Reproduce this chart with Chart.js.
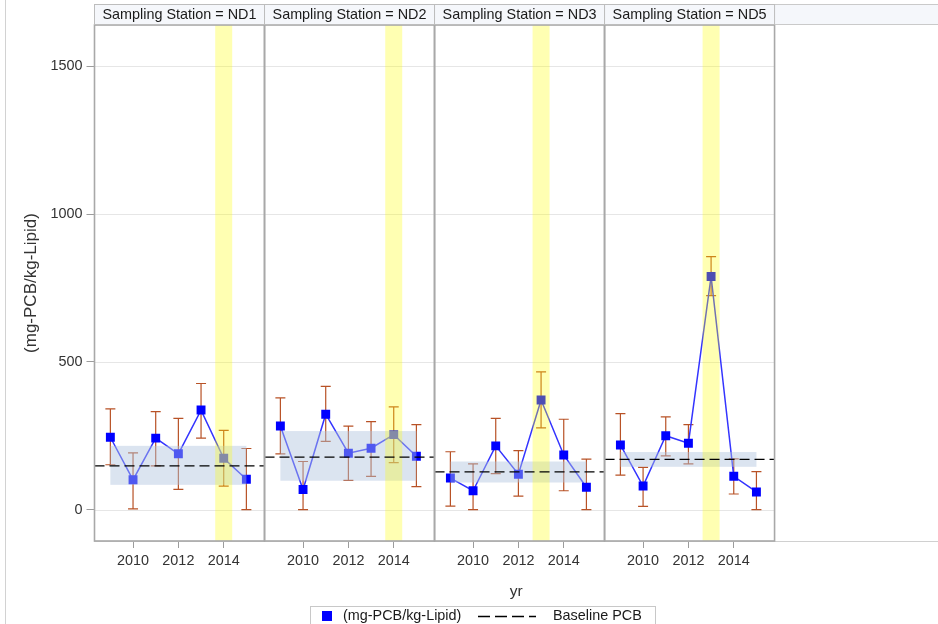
<!DOCTYPE html>
<html><head><meta charset="utf-8">
<script src="https://cdn.jsdelivr.net/npm/chart.js@4.4.1/dist/chart.umd.min.js"></script>
<style>html,body{margin:0;padding:0;background:#fff;}#wrap{position:relative;width:938px;height:624px;}</style>
</head><body><div id="wrap"><canvas id="c" width="938" height="624"></canvas></div>
<script>
// ---------- data ----------
const stations = ['ND1', 'ND2', 'ND3', 'ND5'];
const years = [2009, 2010, 2011, 2012, 2013, 2014, 2015];
const xTickYears = [2010, 2012, 2014];
const yTicks = [0, 500, 1000, 1500];

const nd1Values = [245, 101, 242, 189, 337, 174, 103];
const nd1Upper  = [341, 192, 332, 309, 427, 268, 207];
const nd1Lower  = [152,   3, 148,  69, 242,  80,   0];

const nd2Values = [283,  68, 323, 191, 208, 254, 181];
const nd2Upper  = [378, 163, 417, 283, 298, 348, 288];
const nd2Lower  = [189,   0, 231,  99, 113, 159,  78];

const nd3Values = [107,  64, 216, 120, 371, 185,  76];
const nd3Upper  = [196, 155, 309, 200, 466, 306, 171];
const nd3Lower  = [ 12,   0, 122,  46, 277,  64,   0];

const nd5Values = [219,  80, 250, 225, 789, 113,  60];
const nd5Upper  = [325, 143, 314, 288, 856, 172, 129];
const nd5Lower  = [117,  11, 182, 155, 724,  53,   0];

const baselinePCB = [148, 178, 128, 170];
const baselineLow = [84, 98, 92, 145];
const baselineHigh = [216, 266, 163, 195];
const highlightYear = [2014, 2014, 2013, 2013];

const allValues = [nd1Values, nd2Values, nd3Values, nd5Values];
const allUpper = [nd1Upper, nd2Upper, nd3Upper, nd5Upper];
const allLower = [nd1Lower, nd2Lower, nd3Lower, nd5Lower];

// ---------- panel coordinate mapping ----------
const PANEL_START = 2008.3, PANEL_SPAN = 7.5, X_MAX = 37.21;
const toU = (p, yr) => p * PANEL_SPAN + (yr - PANEL_START);

const FONT = "'Liberation Sans', Arial, sans-serif";
Chart.defaults.font.family = FONT;

const datasets = stations.map((s, p) => ({
  label: '(mg-PCB/kg-Lipid)',
  data: years.map((yr, i) => ({ x: toU(p, yr), y: allValues[p][i] })),
  borderColor: '#3434ff',
  borderWidth: 1.5,
  backgroundColor: '#0000ff',
  pointBackgroundColor: '#0000ff',
  pointBorderColor: '#0000ff',
  pointBorderWidth: 0,
  pointStyle: 'rect',
  pointRadius: 6.3,
  pointHoverRadius: 6.3,
  tension: 0,
  fill: false
}));

const panelPlugin = {
  id: 'panelPlugin',
  beforeDraw(chart) {
    const { ctx, scales: { x, y } } = chart;
    ctx.save();
    ctx.fillStyle = '#fff';
    ctx.fillRect(0, 0, chart.width, chart.height);
    ctx.strokeStyle = '#d2d2d2'; ctx.lineWidth = 1;
    ctx.beginPath(); ctx.moveTo(5.5, 0); ctx.lineTo(5.5, chart.height); ctx.stroke();
    ctx.strokeStyle = '#e6e6e6'; ctx.lineWidth = 1;
    stations.forEach((s, p) => {
      const l = x.getPixelForValue(p * PANEL_SPAN), r = x.getPixelForValue((p + 1) * PANEL_SPAN);
      yTicks.forEach(v => {
        const py = Math.round(y.getPixelForValue(v)) + 0.5;
        ctx.beginPath(); ctx.moveTo(l, py); ctx.lineTo(r, py); ctx.stroke();
      });
    });
    ctx.restore();
  },
  beforeDatasetsDraw(chart) {
    const { ctx, scales: { x, y } } = chart;
    ctx.save();
    ctx.strokeStyle = 'rgb(184,82,38)'; ctx.lineWidth = 1.2;
    stations.forEach((s, p) => {
      years.forEach((yr, i) => {
        const px = x.getPixelForValue(toU(p, yr));
        const pt = y.getPixelForValue(allUpper[p][i]);
        const pb = y.getPixelForValue(allLower[p][i]);
        ctx.beginPath();
        ctx.moveTo(px, pt); ctx.lineTo(px, pb);
        ctx.moveTo(px - 5, pt); ctx.lineTo(px + 5, pt);
        ctx.moveTo(px - 5, pb); ctx.lineTo(px + 5, pb);
        ctx.stroke();
      });
    });
    ctx.restore();
  },
  afterDatasetsDraw(chart) {
    const { ctx, chartArea: a, scales: { x, y } } = chart;
    ctx.save();
    stations.forEach((s, p) => {
      const bl = x.getPixelForValue(toU(p, years[0]));
      const br = x.getPixelForValue(toU(p, years[years.length - 1]));
      const bt = y.getPixelForValue(baselineHigh[p]);
      const bb = y.getPixelForValue(baselineLow[p]);
      ctx.fillStyle = 'rgba(176,196,222,0.45)';
      ctx.fillRect(bl, bt, br - bl, bb - bt);
      const hl = x.getPixelForValue(toU(p, highlightYear[p] - 0.375));
      const hr = x.getPixelForValue(toU(p, highlightYear[p] + 0.375));
      ctx.fillStyle = 'rgba(255,255,0,0.3)';
      ctx.fillRect(hl, a.top, hr - hl, a.bottom - a.top);
      const l = x.getPixelForValue(p * PANEL_SPAN), r = x.getPixelForValue((p + 1) * PANEL_SPAN);
      const py = y.getPixelForValue(baselinePCB[p]);
      ctx.strokeStyle = '#000'; ctx.lineWidth = 1.3; ctx.setLineDash([10, 5]);
      ctx.beginPath(); ctx.moveTo(l, py); ctx.lineTo(r, py); ctx.stroke();
      ctx.setLineDash([]);
    });
    ctx.strokeStyle = '#a8a8a8'; ctx.lineWidth = 1.6;
    stations.forEach((s, p) => {
      const l = x.getPixelForValue(p * PANEL_SPAN), r = x.getPixelForValue((p + 1) * PANEL_SPAN);
      ctx.strokeRect(l, a.top, r - l, a.bottom - a.top);
    });
    ctx.restore();
  },
  afterDraw(chart) {
    const { ctx, chartArea: a, scales: { x } } = chart;
    ctx.save();
    const ht = 4.5, hb = a.top - 0.5;
    const lastR = x.getPixelForValue(stations.length * PANEL_SPAN);
    ctx.fillStyle = '#f5f7fb';
    ctx.fillRect(lastR, ht, chart.width - lastR, hb - ht);
    ctx.strokeStyle = '#cacaca'; ctx.lineWidth = 1;
    ctx.beginPath(); ctx.moveTo(lastR, ht); ctx.lineTo(chart.width, ht);
    ctx.moveTo(lastR, hb); ctx.lineTo(chart.width, hb); ctx.stroke();
    stations.forEach((s, p) => {
      const l = x.getPixelForValue(p * PANEL_SPAN), r = x.getPixelForValue((p + 1) * PANEL_SPAN);
      ctx.fillStyle = '#f5f7fb';
      ctx.fillRect(l, ht, r - l, hb - ht);
      ctx.strokeStyle = '#bdbdbd'; ctx.lineWidth = 1;
      ctx.strokeRect(l, ht, r - l, hb - ht);
      ctx.fillStyle = '#1a1a1a';
      ctx.font = '14.4px ' + FONT;
      ctx.textAlign = 'center'; ctx.textBaseline = 'middle';
      ctx.fillText('Sampling Station = ' + s, (l + r) / 2, (ht + hb) / 2 + 0.5);
    });
    // legend
    ctx.strokeStyle = '#c8c8c8'; ctx.lineWidth = 1;
    ctx.strokeRect(310.5, 606.5, 345, 30);
    ctx.fillStyle = '#0000ff';
    ctx.fillRect(322, 611, 10, 10);
    ctx.fillStyle = '#1a1a1a';
    ctx.font = '14.4px ' + FONT;
    ctx.textAlign = 'left'; ctx.textBaseline = 'middle';
    ctx.fillText('(mg-PCB/kg-Lipid)', 343, 616.5);
    ctx.strokeStyle = '#000'; ctx.lineWidth = 1.3; ctx.setLineDash([12, 5]);
    ctx.beginPath(); ctx.moveTo(478, 616.5); ctx.lineTo(536, 616.5); ctx.stroke();
    ctx.setLineDash([]);
    ctx.fillText('Baseline PCB', 553, 616.5);
    ctx.restore();
  }
};

new Chart(document.getElementById('c'), {
  type: 'line',
  data: { datasets },
  options: {
    responsive: false,
    animation: false,
    devicePixelRatio: 1,
    layout: { autoPadding: false, padding: { top: 25, left: 0, right: 0, bottom: 0 } },
    plugins: { legend: { display: false }, tooltip: { enabled: false } },
    events: [],
    scales: {
      x: {
        type: 'linear', min: 0, max: X_MAX,
        afterBuildTicks: sc => {
          const t = [];
          stations.forEach((s, p) => xTickYears.forEach(yr => t.push({ value: toU(p, yr) })));
          sc.ticks = t;
        },
        afterFit: sc => { sc.height = 83; sc.paddingLeft = 0; sc.paddingRight = 0; },
        ticks: {
          autoSkip: false, maxRotation: 0, minRotation: 0, padding: 4,
          color: '#333', font: { size: 14.4 },
          callback: v => {
            const p = Math.floor((v + 0.001) / PANEL_SPAN);
            return String(Math.round(v - p * PANEL_SPAN + PANEL_START));
          }
        },
        grid: { drawOnChartArea: false, drawTicks: true, tickLength: 7, color: '#9c9c9c' },
        border: { display: true, color: '#d0d0d0' },
        title: { display: true, text: 'yr', color: '#333', font: { size: 15.5 }, padding: { top: 0, bottom: 23 } }
      },
      y: {
        min: -106, max: 1640,
        afterBuildTicks: sc => { sc.ticks = yTicks.map(v => ({ value: v })); },
        afterFit: sc => { sc.width = 94.5; sc.paddingTop = 0; sc.paddingBottom = 0; },
        ticks: { color: '#333', font: { size: 14.4 }, padding: 4, callback: v => String(v) },
        grid: { drawOnChartArea: false, drawTicks: true, tickLength: 8, color: '#9c9c9c' },
        border: { display: false },
        title: { display: true, text: '(mg-PCB/kg-Lipid)', color: '#333', font: { size: 17 }, padding: { top: 21, bottom: 0 } }
      }
    }
  },
  plugins: [panelPlugin]
});
</script>
</body></html>
